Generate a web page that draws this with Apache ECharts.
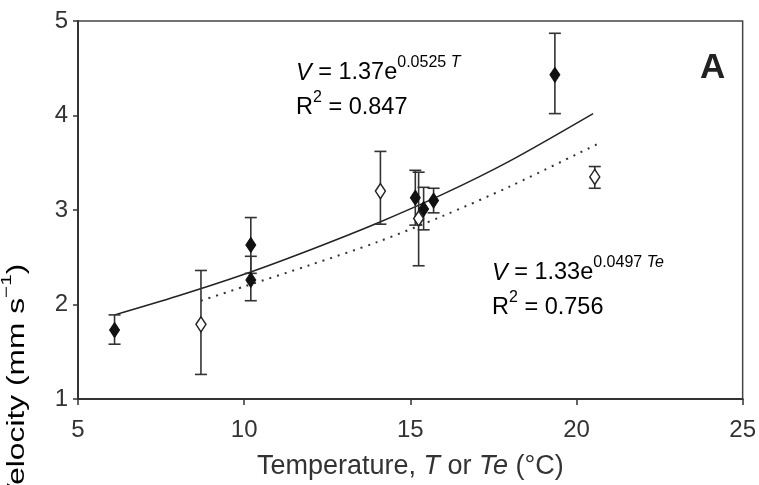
<!DOCTYPE html>
<html>
<head>
<meta charset="utf-8">
<script src="https://cdn.jsdelivr.net/npm/echarts@6/dist/echarts.min.js"></script>
<style>
html,body{margin:0;padding:0;background:#fff;}
#chart{width:759px;height:485px;}
</style>
</head>
<body>
<div id="chart"></div>
<script>
// ---- Data ----
var xTicks = [5, 10, 15, 20, 25];
var yTicks = [1, 2, 3, 4, 5];

// Filled diamonds: velocity vs. T
var filledT  = [6.1, 10.2, 10.2, 15.15, 15.4, 15.7, 19.35];
var filledV  = [1.73, 2.63, 2.26, 3.13, 3.01, 3.10, 4.43];
var filledLo = [1.58, 2.33, 2.04, 2.84, 2.79, 2.97, 4.02];
var filledHi = [1.89, 2.92, 2.51, 3.42, 3.24, 3.23, 4.87];

// Open diamonds: velocity vs. Te
var openTe  = [8.7, 14.1, 15.25, 20.55];
var openV   = [1.79, 3.20, 2.91, 3.35];
var openLo  = [1.26, 2.85, 2.41, 3.23];
var openHi  = [2.36, 3.62, 3.40, 3.46];

// Solid fitted curve (T)
var fitTx = [6.1, 8, 10, 12, 14, 16, 18, 20.5];
var fitTy = [1.89, 2.09, 2.32, 2.58, 2.86, 3.17, 3.52, 4.02];

// Dotted fitted curve (Te)
var fitTeX = [8.7, 10, 12, 14, 16, 18, 20.7];
var fitTeY = [2.04, 2.19, 2.42, 2.66, 2.94, 3.25, 3.71];

var FONT = "'Liberation Sans', Arial, sans-serif";

function zip() {
  var arrs = Array.prototype.slice.call(arguments);
  return arrs[0].map(function (_, i) { return arrs.map(function (a) { return a[i]; }); });
}

function errRender(params, api) {
  var x = api.value(0), lo = api.value(1), hi = api.value(2);
  var p1 = api.coord([x, hi]), p2 = api.coord([x, lo]);
  var w = 6;
  var st = { stroke: '#333', lineWidth: 1.6 };
  return {
    type: 'group',
    children: [
      { type: 'line', shape: { x1: p1[0], y1: p1[1], x2: p2[0], y2: p2[1] }, style: st },
      { type: 'line', shape: { x1: p1[0] - w, y1: p1[1], x2: p1[0] + w, y2: p1[1] }, style: st },
      { type: 'line', shape: { x1: p2[0] - w, y1: p2[1], x2: p2[0] + w, y2: p2[1] }, style: st }
    ]
  };
}

var supRich = {
  n: { fontFamily: FONT, fontSize: 23.5, color: '#222', lineHeight: 30, verticalAlign: 'bottom' },
  i: { fontFamily: FONT, fontSize: 23.5, color: '#222', fontStyle: 'italic', lineHeight: 30, verticalAlign: 'bottom' },
  s: { fontFamily: FONT, fontSize: 16, color: '#222', lineHeight: 30, verticalAlign: 'top' },
  si: { fontFamily: FONT, fontSize: 16, color: '#222', fontStyle: 'italic', lineHeight: 30, verticalAlign: 'top' }
};

var chart = echarts.init(document.getElementById('chart'), null, { renderer: 'canvas' });
chart.setOption({
  animation: false,
  backgroundColor: '#fff',
  grid: { left: 78, right: 11, top: 21, bottom: 86, show: true, borderColor: '#444', borderWidth: 1.5, backgroundColor: 'transparent' },
  xAxis: {
    type: 'value', min: xTicks[0], max: xTicks[xTicks.length - 1], interval: 5,
    axisLine: { show: true, onZero: false, lineStyle: { color: '#333', width: 2 } },
    axisTick: { show: true, inside: false, length: 6, lineStyle: { color: '#333', width: 1.5 } },
    splitLine: { show: false },
    axisLabel: { color: '#333', fontFamily: FONT, fontSize: 24, margin: 19 },
    name: '{n|Temperature, }{i|T}{n| or }{i|Te}{n| (°C)}',
    nameLocation: 'middle', nameGap: 54,
    nameTextStyle: {
      rich: {
        n: { fontFamily: FONT, fontSize: 27, color: '#333' },
        i: { fontFamily: FONT, fontSize: 27, color: '#333', fontStyle: 'italic' }
      }
    }
  },
  yAxis: {
    type: 'value', min: yTicks[0], max: yTicks[yTicks.length - 1], interval: 1,
    axisLine: { show: true, onZero: false, lineStyle: { color: '#333', width: 2 } },
    axisTick: { show: true, inside: false, length: 5, lineStyle: { color: '#333', width: 1.5 } },
    splitLine: { show: false },
    axisLabel: { color: '#333', fontFamily: FONT, fontSize: 24, margin: 10 }
  },
  graphic: [
    { type: 'text', left: 296, top: 55, style: { text: '{i|V}{n| = 1.37e}{s|0.0525 }{si|T}', rich: supRich } },
    { type: 'text', left: 296, top: 90, style: { text: '{n|R}{s|2}{n| = 0.847}', rich: supRich } },
    { type: 'text', left: 492, top: 255, style: { text: '{i|V}{n| = 1.33e}{s|0.0497 }{si|Te}', rich: supRich } },
    { type: 'text', left: 492, top: 290, style: { text: '{n|R}{s|2}{n| = 0.756}', rich: supRich } },
    { type: 'text', left: 700, top: 51, style: { text: 'A', fontFamily: FONT, fontSize: 35, fontWeight: 'bold', fill: '#222' } },
    { type: 'text', x: 14, y: 384, rotation: Math.PI / 2, scaleX: 1.38, scaleY: 1,
      style: {
        text: '{n|Velocity (mm s}{s|−1}{n|)}', align: 'center', verticalAlign: 'middle',
        rich: {
          n: { fontFamily: FONT, fontSize: 23, color: '#333', lineHeight: 30, verticalAlign: 'bottom' },
          s: { fontFamily: FONT, fontSize: 15, color: '#333', lineHeight: 30, verticalAlign: 'top' }
        }
      }
    }
  ],
  series: [
    {
      type: 'line', data: zip(fitTx, fitTy), smooth: 0.3, symbol: 'none',
      lineStyle: { color: '#222', width: 1.5 }, z: 2
    },
    {
      type: 'line', data: zip(fitTeX, fitTeY), smooth: 0.3, symbol: 'none',
      lineStyle: { color: '#333', width: 2, type: [2, 6] }, z: 2
    },
    {
      type: 'custom', renderItem: errRender, data: zip(filledT, filledLo, filledHi),
      encode: { x: 0, y: [1, 2] }, z: 3
    },
    {
      type: 'custom', renderItem: errRender, data: zip(openTe, openLo, openHi),
      encode: { x: 0, y: [1, 2] }, z: 3
    },
    {
      type: 'scatter', data: zip(openTe, openV), symbol: 'diamond', symbolSize: [10, 15],
      itemStyle: { color: '#fff', borderColor: '#222', borderWidth: 1.5, opacity: 1 }, z: 5
    },
    {
      type: 'scatter', data: zip(filledT, filledV), symbol: 'diamond', symbolSize: [10, 15],
      itemStyle: { color: '#111', borderColor: '#111', borderWidth: 1, opacity: 1 }, z: 6
    }
  ]
});
</script>
</body>
</html>
